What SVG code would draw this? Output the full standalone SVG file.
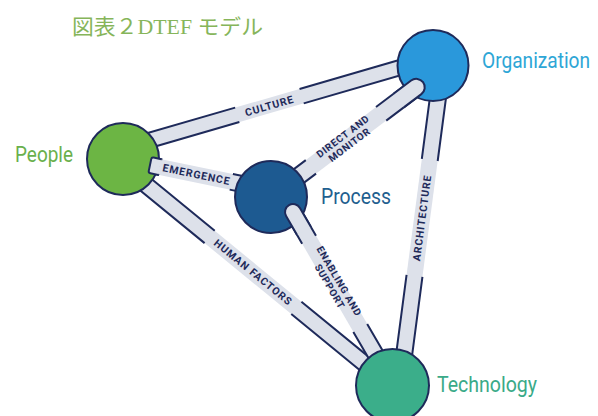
<svg xmlns="http://www.w3.org/2000/svg" width="598" height="416" viewBox="0 0 598 416">
  <style>
    .bar { fill: #dde1ea; }
    .edge { fill: none; stroke: #1e2a5a; stroke-width: 2; }
    .cap { fill: #dde1ea; stroke: #1e2a5a; stroke-width: 2; }
    .lbl { font-family: Roboto, "Liberation Sans", sans-serif; font-weight: 700; font-size: 10.5px; letter-spacing: 0.9px; fill: #1e2a5a; text-anchor: middle; dominant-baseline: central; }
    .lbl2 { font-size: 10px; letter-spacing: 0.7px; }
    .node { stroke: #1e2a5a; stroke-width: 2; }
    .name { font-family: Roboto, "Liberation Sans", sans-serif; font-size: 21.5px; }
  </style>

  <rect width="598" height="416" fill="#ffffff"/>

  <text x="72" y="34" font-family="'Liberation Serif', 'Noto Sans CJK JP', serif" font-size="21" fill="#86b55a" textLength="191" lengthAdjust="spacingAndGlyphs">図表２DTEF モデル</text>

  <!-- links between the four elements -->
  <g id="connectors">
    <g id="culture" transform="translate(123 148) rotate(-16.19)">
      <rect class="bar" x="0" y="-7.5" width="322.8" height="15"/>
      <path class="edge" d="M0 -7.5H119M186 -7.5H322.8M0 7.5H119M186 7.5H322.8"/>
      <text class="lbl" x="152.5" y="0.5">CULTURE</text>
    </g>
    <g id="human-factors" transform="translate(123 166) rotate(39.3)">
      <rect class="bar" x="0" y="-8" width="349" height="16"/>
      <path class="edge" d="M0 -8H112M224 -8H349M0 8H112M224 8H349"/>
      <text class="lbl" x="168" y="0">HUMAN FACTORS</text>
    </g>
    <g id="architecture" transform="translate(400 386) rotate(-82.5)">
      <rect class="bar" x="0" y="-8" width="322" height="16"/>
      <path class="edge" d="M0 -8H111M228 -8H322M0 8H111M228 8H322"/>
      <text class="lbl" x="169.5" y="0">ARCHITECTURE</text>
    </g>
    <g id="direct-and-monitor" transform="translate(271 197) rotate(-37.06)">
      <rect class="bar" x="0" y="-8.5" width="182" height="17"/>
      <path class="edge" d="M0 -8.5H50M138 -8.5H182M0 8.5H50M138 8.5H182"/>
      <text class="lbl lbl2" x="94" y="-5.2">DIRECT AND</text>
      <text class="lbl lbl2" x="94" y="5.6">MONITOR</text>
    </g>
    <g id="emergence" transform="translate(150 165) rotate(11.67)">
      <rect class="bar" x="0" y="-8" width="123.6" height="16"/>
      <path class="edge" d="M0 -8H11M83 -8H123.6M0 8H11M83 8H123.6"/>
      <text class="lbl" x="47.5" y="0">EMERGENCE</text>
    </g>
    <g id="enabling-and-support" transform="translate(293 212) rotate(59.87)">
      <rect class="bar" x="0" y="-8" width="201" height="16"/>
      <path class="edge" d="M0 -8H32M134 -8H201M0 8H32M134 8H201"/>
      <text class="lbl lbl2" x="83" y="-5.2">ENABLING AND</text>
      <text class="lbl lbl2" x="83" y="5.6">SUPPORT</text>
    </g>
  </g>

  <g id="people">
    <circle class="node" cx="123" cy="159" r="36" fill="#6cb544"/>
    <text class="name" x="15" y="162" fill="#6ab04c" textLength="58" lengthAdjust="spacingAndGlyphs">People</text>
  </g>
  <g id="organization">
    <circle class="node" cx="433" cy="65.5" r="35.5" fill="#2a98db"/>
    <!-- narrowed horizontally to a condensed width -->
    <text class="name" transform="translate(482 68) scale(0.89 1)" x="0" y="0" fill="#2ea6d6">Organization</text>
  </g>

  <!-- link ends that sit on top of a circle -->
  <g id="connector-ends-a">
    <path class="cap" transform="translate(150 165) rotate(11.67)" d="M10 -8H2Q0 -8 0 -6V6Q0 8 2 8H10"/>
    <path class="cap" transform="translate(271 197) rotate(-37.06)" d="M160 -8.5H182A8.5 8.5 0 0 1 182 8.5H160"/>
  </g>

  <g id="process">
    <circle class="node" cx="271" cy="197" r="36" fill="#1d5a91"/>
    <text class="name" x="321" y="204" fill="#1f5f8f" textLength="70" lengthAdjust="spacingAndGlyphs">Process</text>
  </g>

  <g id="connector-ends-b">
    <path class="cap" transform="translate(293 212) rotate(59.87)" d="M22 -8H0A8 8 0 0 0 0 8H22"/>
  </g>

  <g id="technology">
    <circle class="node" cx="392.5" cy="385.5" r="36.5" fill="#3bae8a"/>
    <text class="name" x="437" y="392" fill="#3aaa88" textLength="100" lengthAdjust="spacingAndGlyphs">Technology</text>
  </g>
</svg>
